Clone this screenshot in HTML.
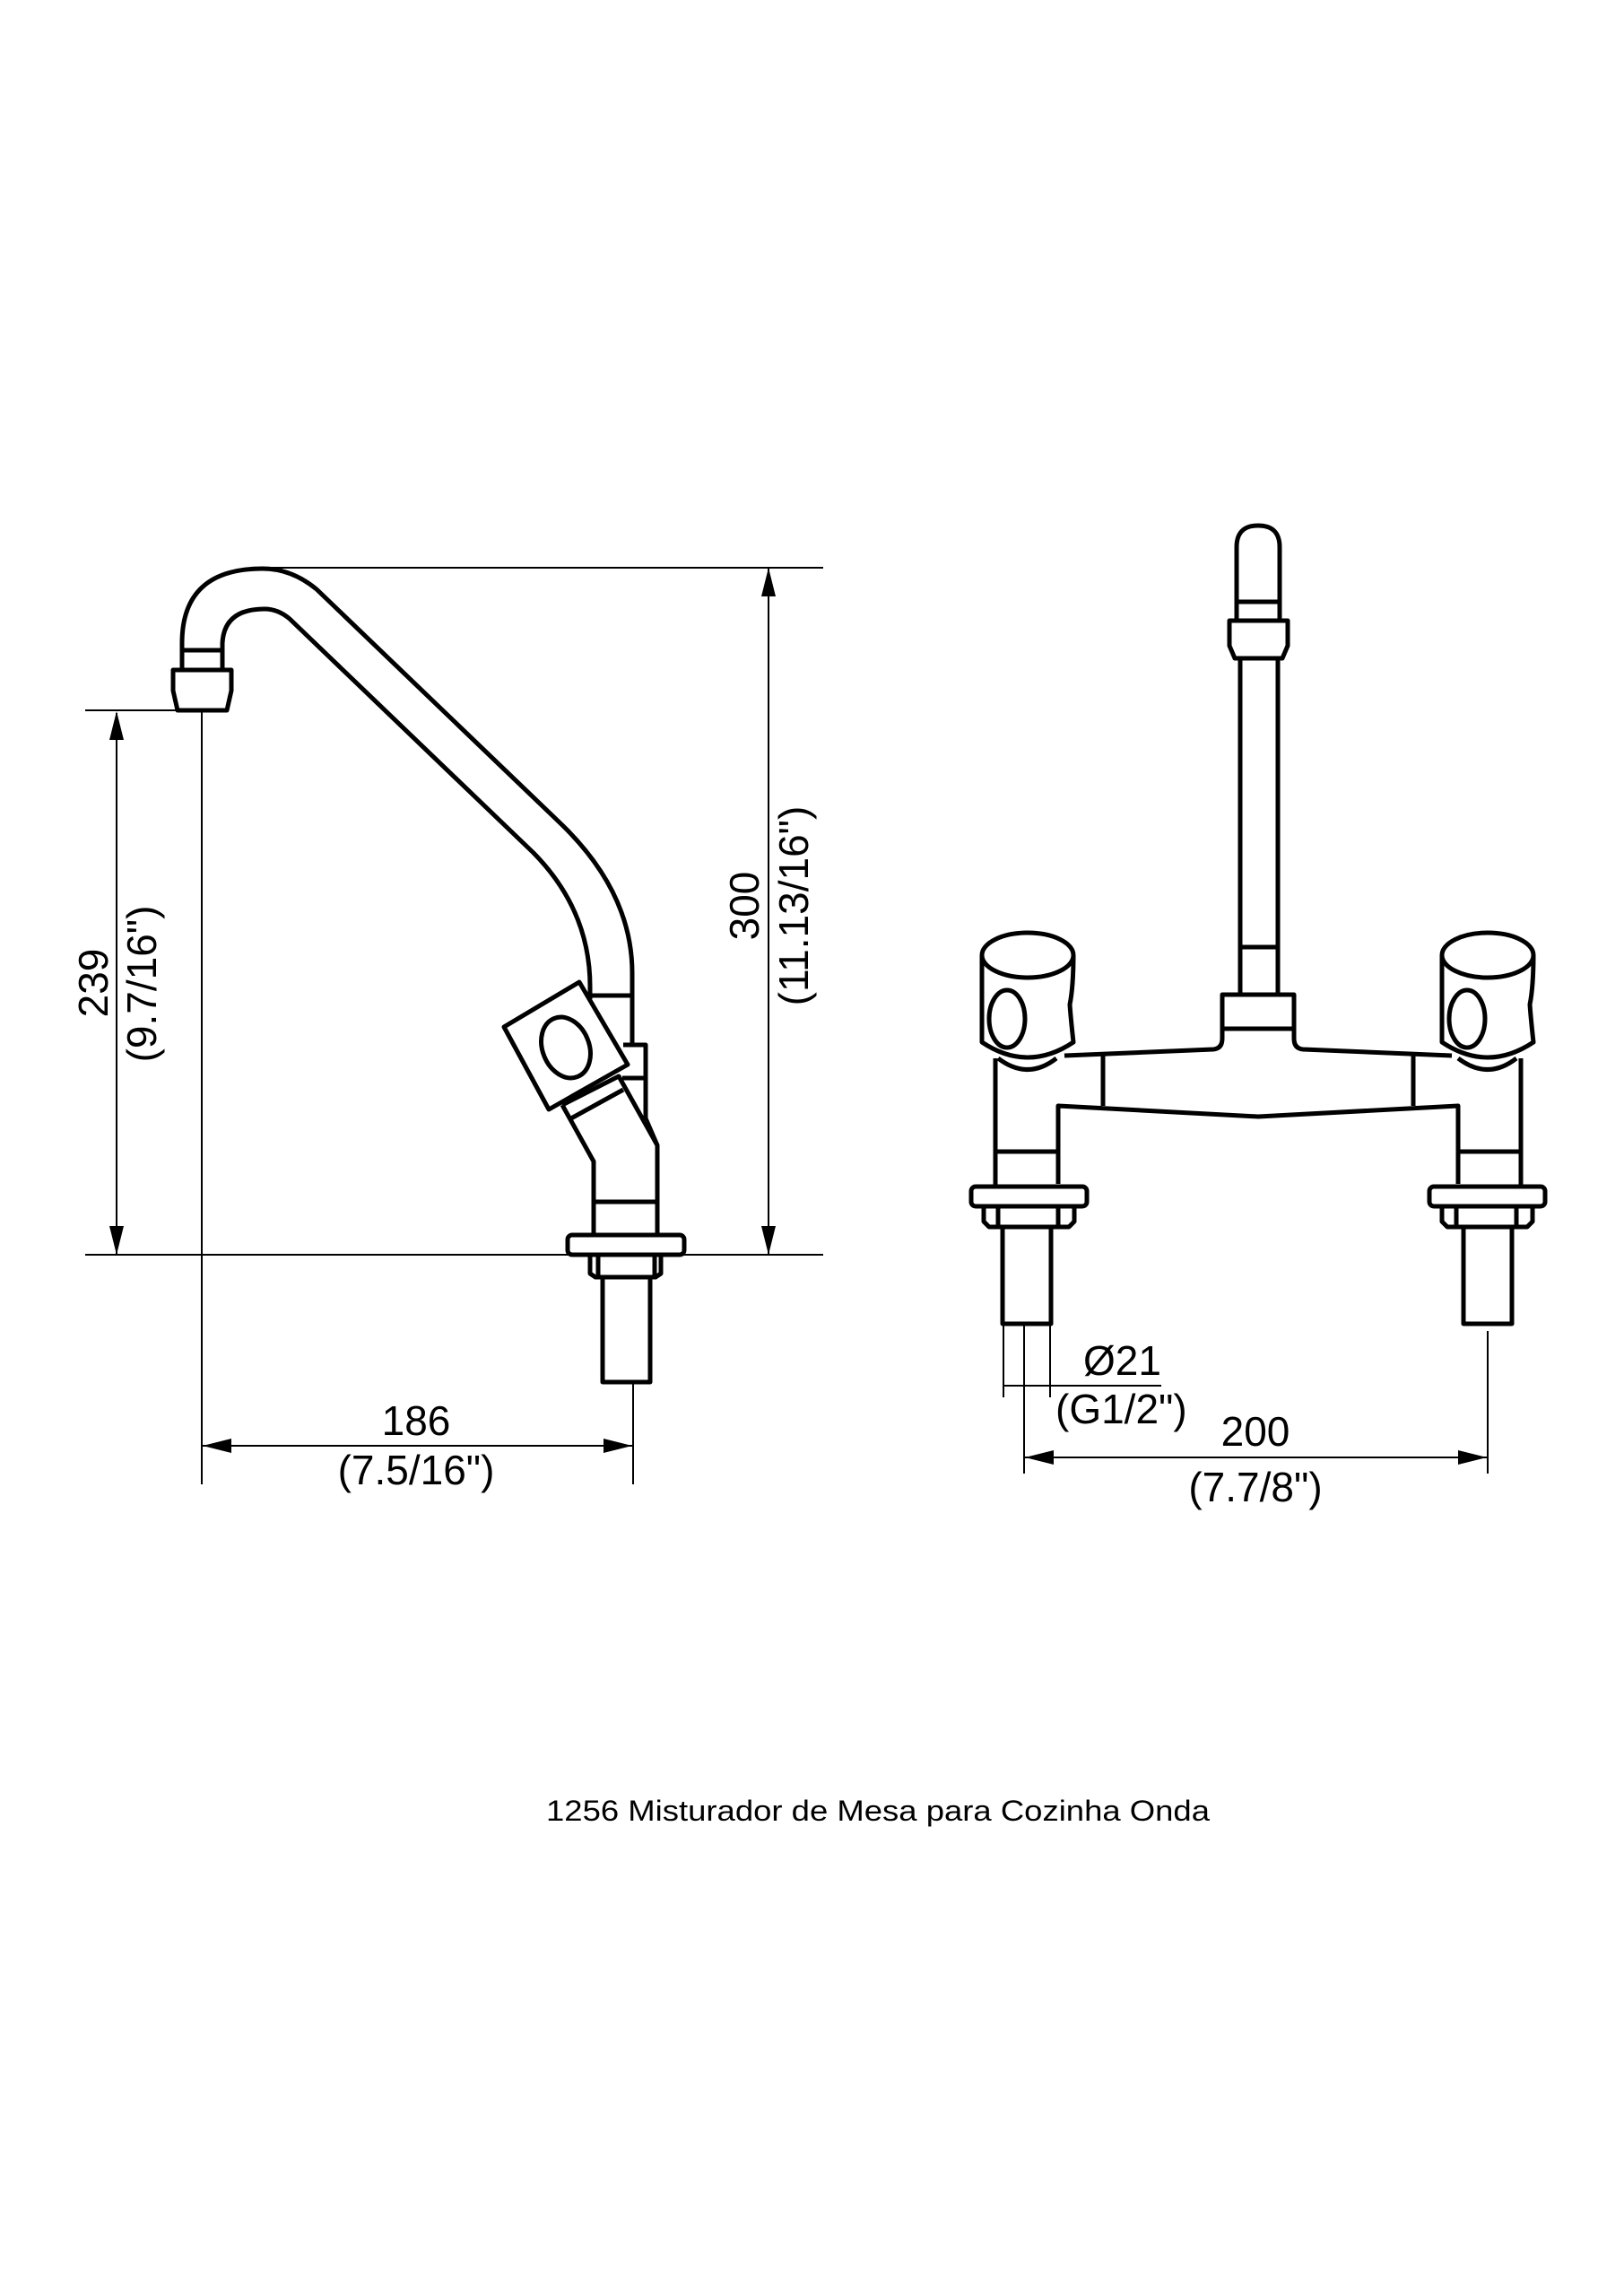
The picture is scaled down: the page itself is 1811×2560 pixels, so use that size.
<!DOCTYPE html>
<html><head><meta charset="utf-8"><style>
html,body{margin:0;padding:0;background:#fff}
svg{display:block}
text{font-family:"Liberation Sans",Arial,sans-serif;fill:#000}
</style></head><body>
<svg width="1811" height="2560" viewBox="0 0 1811 2560" xmlns="http://www.w3.org/2000/svg">
<rect width="1811" height="2560" fill="#fff"/>
<g fill="none" stroke="#000" stroke-width="2">
<line x1="293" y1="633" x2="918" y2="633"/>
<line x1="95" y1="1399" x2="918" y2="1399"/>
<line x1="95" y1="792" x2="198" y2="792"/>
<line x1="130" y1="795" x2="130" y2="1399"/>
<line x1="225" y1="792" x2="225" y2="1655"/>
<line x1="706" y1="1542" x2="706" y2="1655"/>
<line x1="225" y1="1612" x2="706" y2="1612"/>
<line x1="857" y1="633" x2="857" y2="1399"/>
<line x1="1119" y1="1478" x2="1119" y2="1558"/>
<line x1="1171" y1="1478" x2="1171" y2="1558"/>
<line x1="1142" y1="1478" x2="1142" y2="1643"/>
<line x1="1119" y1="1545" x2="1295" y2="1545"/>
<line x1="1659" y1="1484" x2="1659" y2="1643"/>
<line x1="1142" y1="1625" x2="1659" y2="1625"/>
</g>
<g fill="#000">
<polygon points="130,793 122,825 138,825"/>
<polygon points="130,1399 122,1367 138,1367"/>
<polygon points="857,633 849,665 865,665"/>
<polygon points="857,1399 849,1367 865,1367"/>
<polygon points="226,1612 258,1604 258,1620"/>
<polygon points="705,1612 673,1604 673,1620"/>
<polygon points="1143,1625 1175,1617 1175,1633"/>
<polygon points="1658,1625 1626,1617 1626,1633"/>
</g>
<g fill="none" stroke="#000" stroke-width="5" stroke-linejoin="round">
<path d="M203 747 L203 717 Q203 634 293 634 Q325 634 353 657 L625 918 Q705 995 705 1085 L705 1165"/>
<path d="M248 747 L248 717 Q250 679 295 679 Q310 679 323 690 L595 951 Q658 1015 658 1100 L658 1114"/>
<line x1="203" y1="725" x2="248" y2="725"/>
<path d="M193 747 L258 747 L258 770 L253 792 L198 792 L193 770 Z"/>
<line x1="658" y1="1110" x2="705" y2="1110"/>
<path d="M695 1165 L720 1165 L720 1247 L733 1277 L733 1377"/>
<line x1="694" y1="1202" x2="720" y2="1202"/>
<polygon points="562,1145 646,1095 700,1187 612,1237" fill="#fff"/>
<ellipse cx="631" cy="1168" rx="26" ry="35" transform="rotate(-22 631 1168)"/>
<path d="M627 1232 L690 1200 L733 1277"/>
<line x1="635" y1="1248" x2="695" y2="1215"/>
<path d="M627 1232 L662 1295 L662 1377"/>
<line x1="662" y1="1340" x2="733" y2="1340"/>
<rect x="633" y="1377" width="130" height="22" rx="5"/>
<path d="M658 1400 L658 1420 L664 1424 L731 1424 L737 1420 L737 1400"/>
<line x1="667" y1="1400" x2="667" y2="1423"/>
<line x1="730" y1="1400" x2="730" y2="1423"/>
<rect x="672" y="1424" width="53" height="117"/>

<path d="M1379 692 L1379 610 Q1379 586 1403 586 Q1427 586 1427 610 L1427 692"/>
<line x1="1379" y1="671" x2="1427" y2="671"/>
<path d="M1371 692 L1436 692 L1436 720 L1430 734 L1377 734 L1371 720 Z"/>
<path d="M1383 734 L1383 1109 M1425 734 L1425 1109"/>
<line x1="1383" y1="1056" x2="1425" y2="1056"/>
<path d="M1363 1147 L1363 1109 L1443 1109 L1443 1147"/>
<line x1="1363" y1="1147" x2="1443" y2="1147"/>
<path d="M1187 1177 L1353 1170 Q1363 1169 1363 1158 L1363 1147"/>
<path d="M1619 1177 L1453 1170 Q1443 1169 1443 1158 L1443 1147"/>
<path d="M1180 1320 L1180 1233 L1403 1245 L1626 1233 L1626 1320"/>
<line x1="1230" y1="1177" x2="1230" y2="1233"/>
<line x1="1576" y1="1177" x2="1576" y2="1233"/>
<line x1="1110" y1="1180" x2="1110" y2="1323"/>
<line x1="1696" y1="1180" x2="1696" y2="1323"/>
<line x1="1110" y1="1284" x2="1180" y2="1284"/>
<line x1="1626" y1="1284" x2="1696" y2="1284"/>
<g>
<path d="M1113 1180 Q1146 1205 1178 1180"/>
<path d="M1095 1065 L1095 1162 Q1146 1196 1197 1162 Q1194 1135 1193 1120 Q1197 1100 1197 1065" fill="#fff"/>
<ellipse cx="1146" cy="1065" rx="51" ry="25" fill="#fff"/>
<ellipse cx="1123" cy="1136" rx="20" ry="32"/>
</g>
<g transform="translate(513 0)">
<path d="M1113 1180 Q1146 1205 1178 1180"/>
<path d="M1095 1065 L1095 1162 Q1146 1196 1197 1162 Q1194 1135 1193 1120 Q1197 1100 1197 1065" fill="#fff"/>
<ellipse cx="1146" cy="1065" rx="51" ry="25" fill="#fff"/>
<ellipse cx="1123" cy="1136" rx="20" ry="32"/>
</g>
<rect x="1083" y="1323" width="129" height="22" rx="5"/>
<path d="M1097 1345 L1097 1362 L1103 1368 L1192 1368 L1198 1362 L1198 1345"/>
<line x1="1113" y1="1345" x2="1113" y2="1367"/>
<line x1="1180" y1="1345" x2="1180" y2="1367"/>
<rect x="1118" y="1368" width="54" height="108"/>
<rect x="1594" y="1323" width="129" height="22" rx="5"/>
<path d="M1608 1345 L1608 1362 L1614 1368 L1703 1368 L1709 1362 L1709 1345"/>
<line x1="1624" y1="1345" x2="1624" y2="1367"/>
<line x1="1691" y1="1345" x2="1691" y2="1367"/>
<rect x="1632" y="1368" width="54" height="108"/>
</g>
<g font-size="46">
<text x="464" y="1600" text-anchor="middle">186</text>
<text x="464" y="1655" text-anchor="middle">(7.5/16")</text>
<text transform="translate(120 1096) rotate(-90)" text-anchor="middle">239</text>
<text transform="translate(174 1097) rotate(-90)" text-anchor="middle">(9.7/16")</text>
<text transform="translate(846 1010) rotate(-90)" text-anchor="middle">300</text>
<text transform="translate(901 1010) rotate(-90)" text-anchor="middle">(11.13/16")</text>
<text x="1208" y="1533">Ø21</text>
<text x="1177" y="1587">(G1/2")</text>
<text x="1400" y="1612" text-anchor="middle">200</text>
<text x="1400" y="1674" text-anchor="middle">(7.7/8")</text>
</g>
<text x="979" y="2030" font-size="32" text-anchor="middle" textLength="740" lengthAdjust="spacingAndGlyphs">1256 Misturador de Mesa para Cozinha Onda</text>
</svg>
</body></html>
